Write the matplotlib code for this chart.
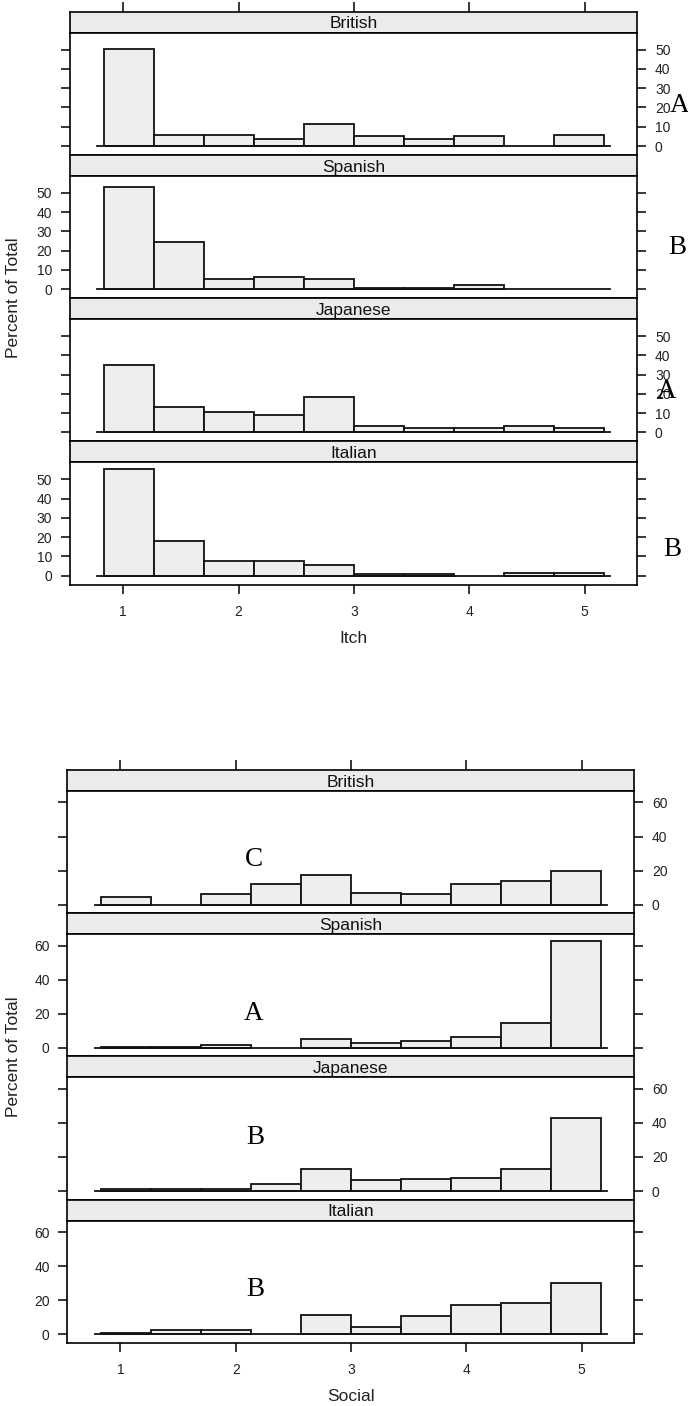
import numpy as np
import matplotlib.pyplot as plt

plt.rcParams['font.family'] = ['Liberation Sans', 'DejaVu Sans']

groups = ["British", "Spanish", "Japanese", "Italian"]
breaks = [0.835, 1.268, 1.701, 2.134, 2.567, 3.000, 3.433, 3.866, 4.299, 4.732, 5.165]

# percent of total per bin, Itch
itch_british = [50.5, 5.7, 5.9, 3.6, 11.2, 5.2, 3.6, 5.2, 0, 5.9]
itch_spanish = [52.9, 24.3, 5.3, 6.2, 5.3, 0.7, 0.7, 2.2, 0, 0]
itch_japanese = [35.1, 13.2, 10.8, 9.2, 18.4, 3.3, 2.4, 2.4, 3.3, 2.4]
itch_italian = [55.4, 18.2, 7.4, 7.4, 5.4, 0.7, 0.7, 0, 1.4, 1.4]

# percent of total per bin, Social
social_british = [4.5, 0, 6.1, 12.2, 17.3, 6.9, 6.1, 12.2, 13.7, 20.0]
social_spanish = [0.6, 0.6, 1.8, 0, 5.3, 2.7, 4.3, 6.3, 14.7, 62.9]
social_japanese = [1.5, 1.5, 1.5, 4.3, 12.9, 6.3, 7.1, 7.8, 12.9, 43.1]
social_italian = [0.7, 2.7, 2.7, 0, 11.1, 4.5, 10.5, 17.2, 18.1, 30.2]

itch_letters = ["A", "B", "A", "B"]
social_letters = ["C", "A", "B", "B"]
xticks = [1, 2, 3, 4, 5]

W, H = 688, 1406
fig = plt.figure(figsize=(W / 100, H / 100), dpi=100)


def box(x0, y0, x1, y1):
    # pixel coords with y measured from the top
    return [x0 / W, 1 - y1 / H, (x1 - x0) / W, (y1 - y0) / H]


def lattice(top, left, right, data, ylim, yticks, xlabel):
    strip_h, panel_h = 21.0, 122.2
    axes = []
    for i, (g, vals) in enumerate(zip(groups, data)):
        s0 = top + i * (strip_h + panel_h)
        p0 = s0 + strip_h
        p1 = p0 + panel_h
        sax = fig.add_axes(box(left, s0, right, p0))
        sax.set_facecolor('#ebebeb')
        sax.set_xlim(0.54, 5.455)
        sax.set_ylim(0, 1)
        sax.set_yticks([])
        sax.text(0.5, 0.42, g, transform=sax.transAxes, ha='center',
                 va='center', fontsize=12.5, color='#111111')
        if i == 0:
            sax.set_xticks(xticks)
            sax.tick_params(axis='x', top=True, bottom=False, labeltop=False,
                            labelbottom=False, direction='out', length=7, width=1.1)
        else:
            sax.set_xticks([])
        for sp in sax.spines.values():
            sp.set_linewidth(1.2)

        ax = fig.add_axes(box(left, p0, right, p1))
        lefts = [b for b, v in zip(breaks[:-1], vals) if v > 0]
        widths = [breaks[k + 1] - breaks[k] for k, v in enumerate(vals) if v > 0]
        heights = [v for v in vals if v > 0]
        ax.bar(lefts, heights, width=widths, align='edge', color='#eeeeee',
               edgecolor='#111111', linewidth=1.3)
        ax.plot([0.777, 5.217], [0, 0], color='#111111', lw=1.3)
        ax.set_xlim(0.54, 5.455)
        ax.set_ylim(*ylim)
        ax.set_yticks(yticks)
        ax.yaxis.set_ticks_position('both')
        if i % 2 == 0:
            ax.tick_params(axis='y', labelleft=False, labelright=True)
        else:
            ax.tick_params(axis='y', labelleft=True, labelright=False)
        ax.tick_params(axis='y', direction='out', length=6.7, width=1.1,
                       pad=6, labelsize=10, labelcolor='#222222')
        if i == len(groups) - 1:
            ax.set_xticks(xticks)
            ax.tick_params(axis='x', direction='out', length=6.5, width=1.1,
                           pad=8, labelsize=10, labelcolor='#222222')
        else:
            ax.set_xticks([])
        for sp in ax.spines.values():
            sp.set_linewidth(1.2)
        axes.append((ax, p0, p1))
    bottom = top + 4 * (strip_h + panel_h)
    fig.text(14 / W, 1 - ((top + bottom) / 2) / H, "Percent of Total",
             rotation=90, ha='center', va='center', fontsize=12.5, color='#222222')
    fig.text((left + right) / 2 / W, 1 - (bottom + 54) / H, xlabel,
             ha='center', va='center', fontsize=12.5, color='#222222')
    return axes


lattice(11.7, 70, 637.3, [itch_british, itch_spanish, itch_japanese, itch_italian],
        (-4.6, 58.8), [0, 10, 20, 30, 40, 50], "Itch")
lattice(770, 67.3, 634.3, [social_british, social_spanish, social_japanese, social_italian],
        (-5.0, 66.7), [0, 20, 40, 60], "Social")

# letter annotations placed in figure pixels
itch_letter_xy = [(679.5, 106), (677, 247), (667, 391), (672, 549)]
social_letter_xy = [(253.5, 860), (254, 1013.5), (255, 1138), (255, 1290)]
for lab, (x, y) in zip(itch_letters + social_letters, itch_letter_xy + social_letter_xy):
    fig.text(x / W, 1 - y / H, lab, ha='center', va='center',
             fontsize=19.5, family='Liberation Serif', color='black')

fig.savefig('out.png', dpi=100)
